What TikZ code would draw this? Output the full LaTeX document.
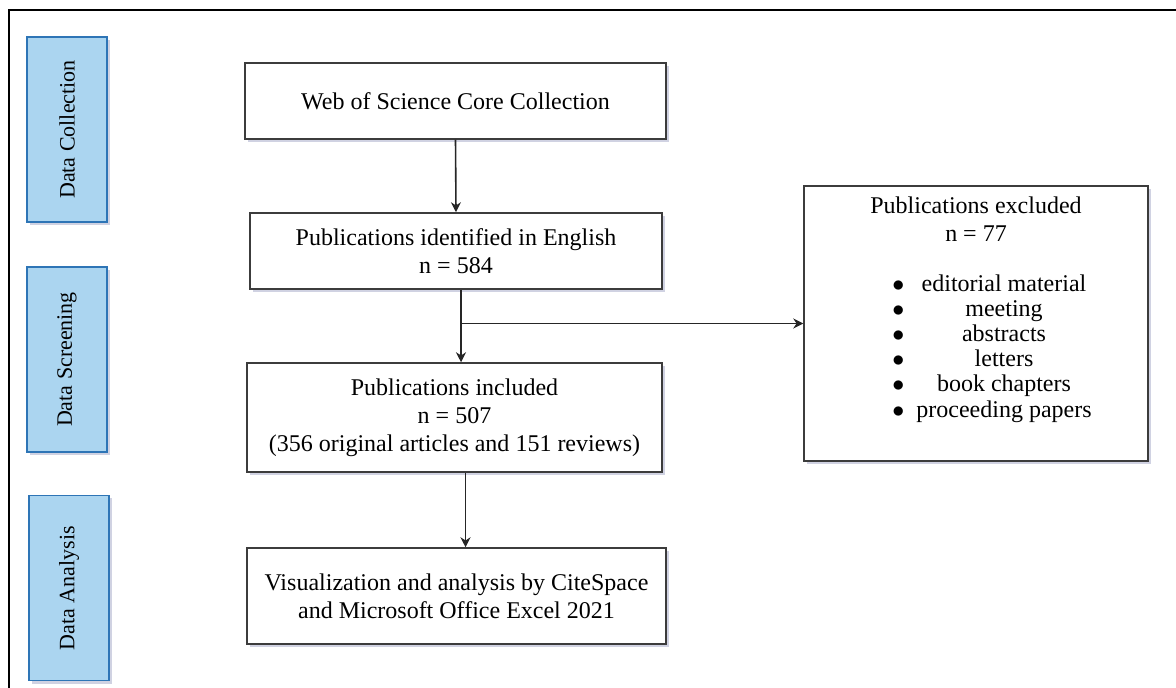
\documentclass[tikz,border=0pt]{standalone}
\usepackage{fontspec}
\setmainfont{Liberation Serif}
\usepackage{tikz}
\usetikzlibrary{arrows.meta, positioning, shadows}

\definecolor{stageblue}{RGB}{171,213,240}
\definecolor{stageedge}{RGB}{46,117,182}
\definecolor{boxedge}{RGB}{60,60,60}
\definecolor{shadowgray}{RGB}{150,155,190}

\begin{document}
\begin{tikzpicture}[x=0.5pt,y=-0.5pt,>={Stealth[length=5pt,width=5pt]},
        font=\fontsize{12}{14}\selectfont,
        softshadow/.style={drop shadow={shadow xshift=1.5pt,shadow yshift=-1.5pt,fill=shadowgray,opacity=0.45}},
        flowbox/.style={draw=boxedge, line width=0.75pt, fill=white, softshadow, align=center, inner sep=2pt},
        stage/.style={draw=stageedge, line width=0.7pt, fill=stageblue, softshadow,
            minimum width=40pt, minimum height=92.5pt, inner sep=0pt, font=\fontsize{11}{13}\selectfont},
        link/.style={->, line width=0.8pt, draw=black!85}]

    \useasboundingbox (0,0) rectangle (1176,688);
    % outer frame
    \draw[line width=1.2pt] (9,688) -- (9,10) -- (1176,10);

    % stages on the left
    \node[stage] (collect) at (67,129.5) {\rotatebox{90}{Data Collection}};
    \node[stage] (screen)  at (67,359.5) {\rotatebox{90}{Data Screening}};
    \node[stage] (analyse) at (69,588)   {\rotatebox{90}{Data Analysis}};

    % main flow
    \node[flowbox, minimum width=210.5pt, minimum height=38pt] (wos)   at (455.5,101) {Web of Science Core Collection};
    \node[flowbox, minimum width=206pt, minimum height=38pt]   (ident) at (456,251)   {Publications identified in English\\ n = 584};
    \node[flowbox, minimum width=207.5pt, minimum height=54.5pt] (incl) at (454.5,417.5) {Publications included\\ n = 507\\ (356 original articles and 151 reviews)};
    \node[flowbox, minimum width=209.5pt, minimum height=48pt] (vis)   at (456.5,596) {Visualization and analysis by CiteSpace\\ and Microsoft Office Excel 2021};

    % excluded records
    \node[flowbox, minimum width=172pt, minimum height=137.5pt] (excl) at (976,323.5) {};
    \node[anchor=north, align=center, inner sep=0pt] (exclhead) at ([yshift=-5.5pt]excl.north) {Publications excluded\\ n = 77};
    \node[anchor=north, inner sep=0pt] (excllist) at (992,273) {%
        \def\arraystretch{0.9}%
        \begin{tabular}{@{}c@{\hspace{6pt}}c@{}}
        $\bullet$ & editorial material\\
        $\bullet$ & meeting\\
        $\bullet$ & abstracts\\
        $\bullet$ & letters\\
        $\bullet$ & book chapters\\
        $\bullet$ & proceeding papers
        \end{tabular}};

    \coordinate (split) at ([xshift=2.5pt]ident.south |- excl.west);
    \draw[link] (wos.south) -- (ident.north);
    \draw[link] ([xshift=2.5pt]ident.south) -- ([xshift=2.5pt]ident.south |- incl.north);
    \draw[link] (split) -- (excl.west);
    \draw[link] ([xshift=5.5pt]incl.south) -- ([xshift=5.5pt]incl.south |- vis.north);
\end{tikzpicture}
\end{document}
